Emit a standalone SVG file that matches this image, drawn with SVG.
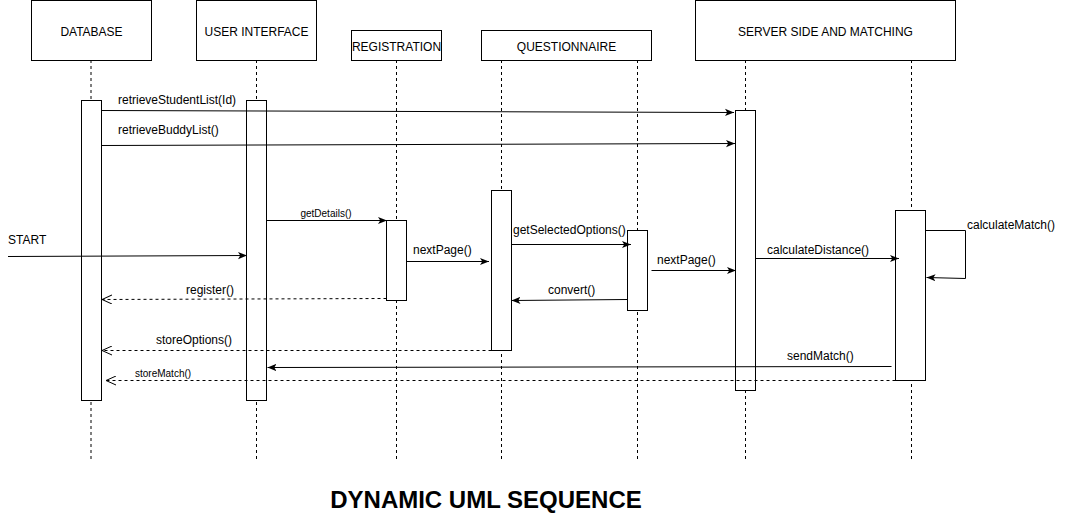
<svg xmlns="http://www.w3.org/2000/svg" width="1066" height="521" viewBox="0 0 1066 521">
<style>
text{font-family:"Liberation Sans",Arial,sans-serif;fill:#000}
.lbl{font-size:12px}
.sm{font-size:10px}
.box{fill:#fff;stroke:#000;stroke-width:1}
.life{stroke:#000;stroke-width:1;stroke-dasharray:3 3;fill:none}
.msg{stroke:#000;stroke-width:1;fill:none;marker-end:url(#blk)}
.ret{stroke:#000;stroke-width:1;fill:none;stroke-dasharray:3 3;marker-end:url(#opn)}
</style>
<defs>
<marker id="blk" viewBox="0 0 10 10" refX="10" refY="5" markerWidth="9" markerHeight="9" markerUnits="userSpaceOnUse" orient="auto"><path d="M0,1 L10,5 L0,9 L2.5,5 Z" fill="#000"/></marker>
<marker id="opn" viewBox="0 0 10 10" refX="10" refY="5" markerWidth="10" markerHeight="10" markerUnits="userSpaceOnUse" orient="auto"><path d="M0,0.5 L10,5 L0,9.5" fill="none" stroke="#000" stroke-width="1"/></marker>
</defs>
<rect width="1066" height="521" fill="#fff"/>
<g id="lifelines">
<line class="life" x1="91" y1="60" x2="91" y2="460"/>
<line class="life" x1="256.5" y1="60" x2="256.5" y2="460"/>
<line class="life" x1="396.5" y1="60" x2="396.5" y2="460"/>
<line class="life" x1="501.5" y1="60" x2="501.5" y2="460"/>
<line class="life" x1="637.5" y1="60" x2="637.5" y2="460"/>
<line class="life" x1="745.5" y1="60" x2="745.5" y2="460"/>
<line class="life" x1="911.5" y1="60" x2="911.5" y2="460"/>
</g>
<g id="database">
<rect class="box" x="31.5" y="0.5" width="120" height="60"/>
<text class="lbl" x="91.5" y="36" text-anchor="middle">DATABASE</text>
<rect class="box" x="81.5" y="100.5" width="20" height="300"/>
</g>
<g id="user-interface">
<rect class="box" x="196.5" y="0.5" width="120" height="60"/>
<text class="lbl" x="256.5" y="36" text-anchor="middle">USER INTERFACE</text>
<rect class="box" x="246.5" y="100.5" width="20" height="300"/>
</g>
<g id="registration">
<rect class="box" x="351.5" y="30.5" width="90" height="30"/>
<text class="lbl" x="396.5" y="51" text-anchor="middle">REGISTRATION</text>
<rect class="box" x="386.5" y="220.5" width="20" height="80"/>
</g>
<g id="questionnaire">
<rect class="box" x="481.5" y="30.5" width="170" height="30"/>
<text class="lbl" x="566.5" y="51" text-anchor="middle">QUESTIONNAIRE</text>
<rect class="box" x="491.5" y="190.5" width="20" height="160"/>
<rect class="box" x="627.5" y="230.5" width="20" height="80"/>
</g>
<g id="server">
<rect class="box" x="695.5" y="0.5" width="260" height="60"/>
<text class="lbl" x="825.5" y="36" text-anchor="middle">SERVER SIDE AND MATCHING</text>
<rect class="box" x="735.5" y="110.5" width="20" height="280"/>
<rect class="box" x="895.5" y="210.5" width="30" height="170"/>
</g>
<g id="connectors">
<line class="msg" x1="101.5" y1="110.5" x2="734" y2="112.5"/>
<line class="msg" x1="101.5" y1="145.5" x2="735" y2="143.5"/>
<line class="msg" x1="266.5" y1="220.5" x2="387" y2="220.5"/>
<line class="msg" x1="8" y1="256.5" x2="247" y2="255.5"/>
<line class="msg" x1="406.5" y1="261.5" x2="489" y2="261.5"/>
<line class="ret" x1="386.5" y1="298.5" x2="102" y2="299.5"/>
<line class="ret" x1="491.5" y1="350.5" x2="102" y2="350.5"/>
<line class="msg" x1="511.5" y1="244.5" x2="631" y2="244.5"/>
<line class="msg" x1="627.5" y1="299.5" x2="511.5" y2="300.5"/>
<line class="msg" x1="651.5" y1="270.5" x2="736" y2="270.5"/>
<line class="msg" x1="755.5" y1="258.5" x2="899" y2="258.5"/>
<polyline class="msg" points="925.5,230.5 965.5,230.5 965.5,278.5 926.5,277.5"/>
<line class="msg" x1="891.5" y1="366.5" x2="267.5" y2="367.5"/>
<line class="ret" x1="895.5" y1="380.5" x2="106" y2="380.5"/>
</g>
<g id="labels">
<text class="lbl" x="118" y="104">retrieveStudentList(Id)</text>
<text class="lbl" x="118" y="134">retrieveBuddyList()</text>
<text class="sm" x="326" y="217" text-anchor="middle">getDetails()</text>
<text class="lbl" x="8" y="244">START</text>
<text class="lbl" x="413" y="254">nextPage()</text>
<text class="lbl" x="186" y="294">register()</text>
<text class="lbl" x="156" y="344">storeOptions()</text>
<text class="lbl" x="513" y="234">getSelectedOptions()</text>
<text class="lbl" x="548" y="294">convert()</text>
<text class="lbl" x="657" y="264">nextPage()</text>
<text class="lbl" x="767" y="254">calculateDistance()</text>
<text class="lbl" x="967" y="229">calculateMatch()</text>
<text class="lbl" x="787" y="360">sendMatch()</text>
<text class="sm" x="135" y="377">storeMatch()</text>
</g>
<text id="title" x="486" y="508" text-anchor="middle" style="font-size:24px;font-weight:bold">DYNAMIC UML SEQUENCE</text>
</svg>
